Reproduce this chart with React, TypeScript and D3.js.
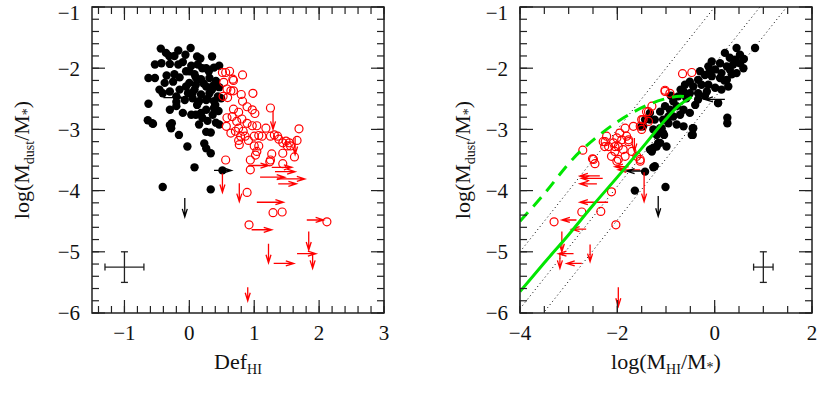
import * as d3 from "d3";

type P = [number, number];
type HArrow = [number, number, number]; // tail x, tip x, y
type VArrow = [number, number, number]; // x, tail y, tip y

// ---- left panel: Def_HI ----
const leftBlack: P[] = [
  [-0.44, -1.68], [0.02, -1.67], [-0.17, -1.71], [-0.36, -1.75], [-0.31, -1.8], [-0.23, -1.8], [-0.06, -1.78], [0.12, -1.81], [0.17, -1.84], [0.35, -1.81],
  [-0.53, -1.94], [-0.43, -1.92], [-0.3, -1.93], [-0.17, -1.94], [-0.1, -1.9], [0.03, -1.96], [0.13, -1.94], [0.26, -2.0], [0.38, -1.99], [0.46, -1.96],
  [-0.63, -2.16], [-0.53, -2.16], [-0.35, -2.12], [-0.23, -2.1], [-0.15, -2.15], [-0.05, -2.05], [0.08, -2.1], [0.18, -2.18], [0.31, -2.16], [0.41, -2.21],
  [-0.38, -2.24], [-0.25, -2.22], [0.0, -2.24], [0.1, -2.27], [0.26, -2.3], [0.36, -2.29], [0.46, -2.31],
  [-0.46, -2.35], [-0.3, -2.38], [-0.15, -2.35], [-0.02, -2.41], [0.08, -2.35], [0.18, -2.43], [0.31, -2.41], [0.44, -2.46],
  [-0.41, -2.41], [-0.2, -2.46], [-0.07, -2.52], [0.05, -2.49], [0.15, -2.54], [0.26, -2.52], [0.38, -2.54], [0.49, -2.49],
  [-0.63, -2.58], [-0.3, -2.68], [-0.2, -2.62], [-0.1, -2.73], [0.03, -2.76], [0.1, -2.76], [0.18, -2.73], [0.26, -2.68], [0.38, -2.65], [0.36, -2.76],
  [0.2, -2.81], [0.28, -2.86], [0.41, -2.89], [0.46, -2.92], [0.15, -2.92],
  [-0.64, -2.85], [-0.56, -2.91], [-0.3, -2.93], [-0.28, -2.98], [-0.16, -3.09], [0.26, -3.04], [0.33, -3.05],
  [-0.03, -3.28], [0.23, -3.23], [0.26, -3.31], [0.33, -3.39], [0.08, -3.62], [-0.41, -3.94], [0.33, -3.98], [0.51, -3.67],
  [0.2, -2.0], [0.3, -2.05], [0.1, -2.15], [0.22, -2.25], [0.35, -2.35], [0.05, -2.4], [0.28, -2.5], [0.12, -2.6], [0.4, -2.6],
  [0.45, -2.7], [-0.05, -2.3], [-0.2, -2.55], [0.0, -2.05], [-0.27, -2.9], [-0.57, -2.9],
];

const leftRed: P[] = [
  [0.51, -2.07], [0.56, -2.07], [0.62, -2.05], [0.82, -2.11], [0.53, -2.23], [0.67, -2.18], [0.68, -2.2], [0.58, -2.34], [0.64, -2.37], [0.68, -2.37],
  [0.52, -2.46], [0.59, -2.48], [0.8, -2.43], [0.82, -2.54], [0.98, -2.41], [0.68, -2.67], [0.76, -2.72], [0.89, -2.63], [0.97, -2.68], [1.01, -2.74],
  [0.58, -2.81], [0.66, -2.79], [0.73, -2.87], [0.81, -2.83], [0.89, -2.9], [0.97, -2.94], [1.04, -2.94], [0.57, -2.95], [0.64, -3.06], [0.71, -3.03],
  [0.76, -2.98], [0.83, -3.03], [0.79, -3.11], [0.86, -3.11], [0.76, -3.18], [0.77, -3.25], [0.91, -3.18], [1.0, -3.11], [1.07, -3.1], [1.12, -3.11],
  [1.18, -2.98], [1.25, -2.65], [1.25, -3.11], [1.31, -3.09], [1.36, -3.11], [1.38, -3.16], [1.44, -3.22], [1.49, -3.19], [1.54, -3.22], [1.51, -3.27],
  [1.56, -3.27], [1.66, -3.18], [1.69, -2.99], [1.0, -3.27], [1.07, -3.27], [1.04, -3.36], [1.02, -3.42], [0.94, -3.5], [1.25, -3.5], [1.27, -3.4],
  [1.44, -3.39], [1.62, -3.45], [0.56, -3.5], [0.94, -3.66], [1.24, -3.53], [1.44, -3.56], [0.89, -4.03], [1.29, -4.36], [1.43, -4.35], [0.92, -4.56],
  [2.12, -4.51],
];

const leftRedRight: HArrow[] = [
  [0.91, 1.22, -3.59], [1.27, 1.58, -3.62], [1.32, 1.63, -3.69], [1.09, 1.47, -3.78], [1.35, 1.78, -3.81], [1.37, 1.65, -3.89],
  [1.04, 1.45, -4.19], [0.96, 1.27, -4.64], [1.81, 2.07, -4.48], [1.66, 1.95, -5.03], [1.3, 1.61, -5.19],
];
const leftRedDown: VArrow[] = [
  [1.29, -2.7, -3.0], [1.63, -3.13, -3.41], [0.51, -3.72, -4.03], [0.77, -3.88, -4.18], [1.22, -4.87, -5.18],
  [1.84, -4.67, -4.97], [1.9, -5.05, -5.27], [0.9, -5.58, -5.8],
];
const leftBlackRight: HArrow[] = [[0.38, 0.65, -3.67], [-0.4, -0.11, -2.48]];
const leftBlackDown: VArrow[] = [[-0.07, -4.12, -4.43]];

// ---- right panel: log(M_HI/M*) ----
const rightBlack: P[] = [
  [0.45, -1.67], [0.83, -1.67], [0.52, -1.78], [0.42, -1.86], [0.21, -1.75], [0.31, -1.83], [-0.06, -1.89], [-0.13, -1.97], [0.11, -1.92], [0.25, -1.97],
  [0.38, -1.94], [0.52, -1.92], [0.59, -2.0], [0.01, -2.02], [0.14, -2.08], [0.31, -2.02], [0.45, -2.08], [-0.3, -2.05], [-0.2, -2.11], [-0.06, -2.13],
  [0.11, -2.16], [0.25, -2.19], [-0.34, -2.19], [-0.51, -2.22], [-0.61, -2.27], [-0.44, -2.3], [-0.27, -2.27], [-0.13, -2.27], [0.01, -2.32], [0.14, -2.35],
  [0.28, -2.3], [-0.64, -2.38], [-0.51, -2.41], [-0.34, -2.41], [-0.16, -2.38], [-0.75, -2.46], [-0.58, -2.49], [-0.34, -2.51], [0.07, -2.57], [-0.85, -2.54],
  [-0.78, -2.62], [-0.64, -2.68], [-0.92, -2.68], [-0.85, -2.79], [-0.71, -2.76], [-0.51, -2.73], [-0.95, -2.9], [-0.78, -2.92], [-0.64, -2.95], [-1.06, -2.84],
  [-1.12, -2.98], [-0.44, -2.98], [-0.47, -3.09], [0.26, -2.81], [0.26, -2.9], [-1.47, -2.95], [-1.33, -2.84], [-1.26, -3.0],
  [-1.33, -2.73], [-1.23, -2.84], [-1.43, -2.84], [-1.12, -2.71], [-1.02, -2.62], [-0.95, -2.79], [-1.09, -2.98], [-1.04, -3.09], [-1.19, -3.09], [-1.16, -3.22],
  [-1.26, -3.3], [-1.33, -3.33], [-1.23, -3.6], [-1.43, -3.69], [-1.64, -4.0], [-1.26, -3.62], [-1.01, -3.94],
  [-1.5, -2.95], [-1.19, -3.28], [-1.29, -3.36], [-0.99, -3.28], [-0.45, -2.98], [-0.45, -3.09], [0.07, -2.57], [-1.06, -3.06], [-1.12, -3.22],
  [-0.7, -2.35], [-0.4, -2.6], [-0.2, -2.45], [-0.9, -2.45], [0.2, -2.2], [-0.1, -2.05], [0.35, -2.1], [0.6, -1.85],
];

const rightRed: P[] = [
  [-1.02, -2.38], [-1.29, -2.62], [-1.4, -2.71], [-1.5, -2.84], [-1.36, -2.87], [-1.53, -2.95], [-1.67, -2.95], [-1.84, -2.98], [-1.95, -3.06], [-1.81, -3.11],
  [-2.01, -3.14], [-1.91, -3.17], [-1.77, -3.2], [-2.08, -3.22], [-2.22, -3.11], [-2.25, -3.2], [-2.18, -3.28], [-1.98, -3.28], [-1.88, -3.33], [-2.05, -3.36],
  [-2.12, -3.44], [-1.98, -3.49], [-1.7, -3.36], [-1.6, -3.44], [-1.53, -3.49], [-2.49, -3.49], [-2.46, -3.56], [-2.71, -3.34], [-1.5, -3.0],
  [-0.66, -2.09], [-0.47, -2.07], [-1.02, -2.36], [-0.92, -2.41], [-1.36, -2.71], [-1.47, -2.84], [-2.29, -3.2], [-2.26, -3.28], [-2.05, -3.28],
  [-2.51, -3.48], [-2.12, -4.02], [-1.77, -3.17], [-1.84, -3.44], [-2.73, -4.35], [-2.34, -4.34], [-3.3, -4.51], [-2.03, -4.56], [-2.01, -3.52], [-1.53, -3.52],
];

const rightRedLeft: HArrow[] = [
  [-2.36, -2.77, -3.76], [-2.3, -2.74, -3.8], [-2.42, -2.77, -3.89], [-2.19, -2.77, -4.19], [-2.84, -3.14, -4.48], [-2.64, -2.94, -4.63],
  [-2.9, -3.21, -5.03], [-2.73, -3.04, -5.19], [-1.77, -2.05, -3.61], [-1.53, -1.98, -3.66],
];
const rightRedDown: VArrow[] = [
  [-1.45, -3.7, -4.18], [-3.14, -4.67, -5.0], [-3.18, -5.02, -5.27], [-2.56, -4.88, -5.16], [-1.98, -5.58, -5.89], [-1.65, -3.14, -3.36],
];
const rightBlackLeft: HArrow[] = [[0.21, -0.2, -2.51], [-1.43, -1.81, -3.68]];
const rightBlackDown: VArrow[] = [[-1.16, -4.09, -4.42]];

// constant dust-to-HI ratio lines (y = x + offset)
const dottedOffsets = [-1, -1.93, -2.48];
const greenSolid: P[] = [
  [-4, -5.65], [-3.5, -5.18], [-3, -4.72], [-2.5, -4.24], [-2, -3.78], [-1.5, -3.31], [-1, -2.83], [-0.75, -2.62], [-0.47, -2.47],
];
const greenDashed: P[] = [
  [-4, -4.5], [-3.52, -4.07], [-2.9, -3.47], [-2.32, -3.06], [-1.7, -2.73], [-1.06, -2.51], [-0.71, -2.46], [-0.5, -2.48],
];

const yTicks = [-6, -5, -4, -3, -2, -1];
const leftXTicks = [-1, 0, 1, 2, 3];
const rightXTicks = [-4, -2, 0, 2];

const W = 818;
const H = 406;
const TOP = 7;
const BOTTOM = 313;
const FONT = "'Liberation Serif', 'Times New Roman', serif";
const RED = "#ff0000";
const GREEN = "#00e600";

const fmt = (v: number) => (v < 0 ? "\u2212" + Math.abs(v) : String(v));

function hArrow(x: d3.ScaleLinear<number, number>, y: d3.ScaleLinear<number, number>, a: HArrow) {
  const x0 = x(a[0]), x1 = x(a[1]), yy = y(a[2]);
  const s = Math.sign(x1 - x0);
  return `M${x0},${yy}L${x1},${yy}M${x1 - s * 8},${yy - 2.5}L${x1},${yy}L${x1 - s * 8},${yy + 2.5}`;
}
function vArrow(x: d3.ScaleLinear<number, number>, y: d3.ScaleLinear<number, number>, a: VArrow) {
  const xx = x(a[0]), y0 = y(a[1]), y1 = y(a[2]);
  return `M${xx},${y0}L${xx},${y1}M${xx - 2.5},${y1 - 8}L${xx},${y1}L${xx + 2.5},${y1 - 8}`;
}

type PanelProps = {
  id: string;
  left: number;
  right: number;
  titleX: number;
  xDomain: [number, number];
  xMajor: number[];
  xMinorStep: number;
  black: P[];
  red: P[];
  redH: HArrow[];
  redV: VArrow[];
  blackH: HArrow[];
  blackV: VArrow[];
  err: [number, number, number, number];
  xTitle: "def" | "mhi";
  model?: boolean;
};

function Panel(p: PanelProps) {
  const x = d3.scaleLinear().domain(p.xDomain).range([p.left, p.right]);
  const y = d3.scaleLinear().domain([-6, -1]).range([BOTTOM, TOP]);
  const xMinor = d3.range(Math.ceil(p.xDomain[0] / p.xMinorStep) * p.xMinorStep, p.xDomain[1] + 1e-9, p.xMinorStep);
  const yMinor = d3.range(-6, -1 + 1e-9, 0.2);
  const major = 13;
  const minor = 7;
  const line = d3.line<P>().x((d) => x(d[0])).y((d) => y(d[1])).curve(d3.curveMonotoneX);
  const [ex, ey, edx, edy] = p.err;
  const cx = (p.left + p.right) / 2;
  const cy = (TOP + BOTTOM) / 2;

  return (
    <g>
      <defs>
        <clipPath id={p.id}>
          <rect x={p.left} y={TOP} width={p.right - p.left} height={BOTTOM - TOP} />
        </clipPath>
      </defs>

      {p.model && (
        <g clipPath={`url(#${p.id})`}>
          {dottedOffsets.map((o) => (
            <line key={o} x1={x(-4)} y1={y(-4 + o)} x2={x(2)} y2={y(2 + o)} stroke="#000" strokeWidth={1} strokeDasharray="1,3" />
          ))}
        </g>
      )}

      <g clipPath={`url(#${p.id})`}>
        {p.black.map((d, i) => (
          <circle key={"b" + i} cx={x(d[0])} cy={y(d[1])} r={4.2} fill="#000" />
        ))}
        {p.red.map((d, i) => (
          <circle key={"r" + i} cx={x(d[0])} cy={y(d[1])} r={4} fill="none" stroke={RED} strokeWidth={1.2} />
        ))}
        {p.redH.map((a, i) => (
          <path key={"rh" + i} d={hArrow(x, y, a)} fill="none" stroke={RED} strokeWidth={1.3} />
        ))}
        {p.redV.map((a, i) => (
          <path key={"rv" + i} d={vArrow(x, y, a)} fill="none" stroke={RED} strokeWidth={1.3} />
        ))}
        {p.blackH.map((a, i) => (
          <path key={"bh" + i} d={hArrow(x, y, a)} fill="none" stroke="#000" strokeWidth={1.3} />
        ))}
        {p.blackV.map((a, i) => (
          <path key={"bv" + i} d={vArrow(x, y, a)} fill="none" stroke="#000" strokeWidth={1.3} />
        ))}
        {p.model && (
          <>
            <path d={line(greenSolid) ?? ""} fill="none" stroke={GREEN} strokeWidth={3} />
            <path d={line(greenDashed) ?? ""} fill="none" stroke={GREEN} strokeWidth={3} strokeDasharray="12,8" />
          </>
        )}
      </g>

      {/* error bar */}
      <g stroke="#222" strokeWidth={1.3}>
        <line x1={x(ex - edx)} x2={x(ex + edx)} y1={y(ey)} y2={y(ey)} />
        <line x1={x(ex)} x2={x(ex)} y1={y(ey - edy)} y2={y(ey + edy)} />
        <line x1={x(ex - edx)} x2={x(ex - edx)} y1={y(ey) - 3.5} y2={y(ey) + 3.5} />
        <line x1={x(ex + edx)} x2={x(ex + edx)} y1={y(ey) - 3.5} y2={y(ey) + 3.5} />
        <line x1={x(ex) - 3.5} x2={x(ex) + 3.5} y1={y(ey - edy)} y2={y(ey - edy)} />
        <line x1={x(ex) - 3.5} x2={x(ex) + 3.5} y1={y(ey + edy)} y2={y(ey + edy)} />
      </g>

      {/* ticks */}
      <g stroke="#222" strokeWidth={1.2}>
        {xMinor.map((v) => (
          <g key={"xm" + v}>
            <line x1={x(v)} x2={x(v)} y1={BOTTOM} y2={BOTTOM - minor} />
            <line x1={x(v)} x2={x(v)} y1={TOP} y2={TOP + minor} />
          </g>
        ))}
        {p.xMajor.map((v) => (
          <g key={"xM" + v}>
            <line x1={x(v)} x2={x(v)} y1={BOTTOM} y2={BOTTOM - major} />
            <line x1={x(v)} x2={x(v)} y1={TOP} y2={TOP + major} />
          </g>
        ))}
        {yMinor.map((v) => (
          <g key={"ym" + v}>
            <line x1={p.left} x2={p.left + minor} y1={y(v)} y2={y(v)} />
            <line x1={p.right} x2={p.right - minor} y1={y(v)} y2={y(v)} />
          </g>
        ))}
        {yTicks.map((v) => (
          <g key={"yM" + v}>
            <line x1={p.left} x2={p.left + major} y1={y(v)} y2={y(v)} />
            <line x1={p.right} x2={p.right - major} y1={y(v)} y2={y(v)} />
          </g>
        ))}
      </g>
      <rect x={p.left} y={TOP} width={p.right - p.left} height={BOTTOM - TOP} fill="none" stroke="#222" strokeWidth={1.5} />

      {/* tick labels */}
      <g fontFamily={FONT} fontSize={21} fill="#111">
        {yTicks.map((v) => (
          <text key={"yl" + v} x={p.left - 12} y={y(v)} dy={v === -1 ? "0.62em" : "0.35em"} textAnchor="end">
            {fmt(v)}
          </text>
        ))}
        {p.xMajor.map((v) => (
          <text key={"xl" + v} x={x(v)} y={BOTTOM + 27} textAnchor="middle">
            {fmt(v)}
          </text>
        ))}
      </g>

      {/* axis titles */}
      <g fontFamily={FONT} fill="#111">
        <text transform={`translate(${p.titleX},${cy}) rotate(-90)`} textAnchor="middle" fontSize={22}>
          log(M
          <tspan fontSize={14} dy={5}>dust</tspan>
          <tspan dy={-5}>/M</tspan>
          <tspan fontSize={14} dy={3}>*</tspan>
          <tspan dy={-3}>)</tspan>
        </text>
        {p.xTitle === "def" ? (
          <text x={cx} y={BOTTOM + 56} textAnchor="middle" fontSize={22}>
            Def<tspan fontSize={14} dy={5}>HI</tspan>
          </text>
        ) : (
          <text x={cx} y={BOTTOM + 56} textAnchor="middle" fontSize={22}>
            log(M<tspan fontSize={14} dy={5}>HI</tspan>
            <tspan dy={-5}>/M</tspan>
            <tspan fontSize={14} dy={3}>*</tspan>
            <tspan dy={-3}>)</tspan>
          </text>
        )}
      </g>
    </g>
  );
}

export default function App() {
  return (
    <svg width={W} height={H} style={{ position: "absolute", left: 0, top: 0, background: "#fff" }}>
      <Panel
        id="clipL"
        left={92}
        right={384}
        titleX={29}
        xDomain={[-1.5, 3]}
        xMajor={leftXTicks}
        xMinorStep={0.2}
        black={leftBlack}
        red={leftRed}
        redH={leftRedRight}
        redV={leftRedDown}
        blackH={leftBlackRight}
        blackV={leftBlackDown}
        err={[-1, -5.25, 0.3, 0.25]}
        xTitle="def"
      />
      <Panel
        id="clipR"
        left={520}
        right={812}
        titleX={470}
        xDomain={[-4, 2]}
        xMajor={rightXTicks}
        xMinorStep={0.5}
        black={rightBlack}
        red={rightRed}
        redH={rightRedLeft}
        redV={rightRedDown}
        blackH={rightBlackLeft}
        blackV={rightBlackDown}
        err={[1, -5.25, 0.2, 0.25]}
        xTitle="mhi"
        model
      />
    </svg>
  );
}
